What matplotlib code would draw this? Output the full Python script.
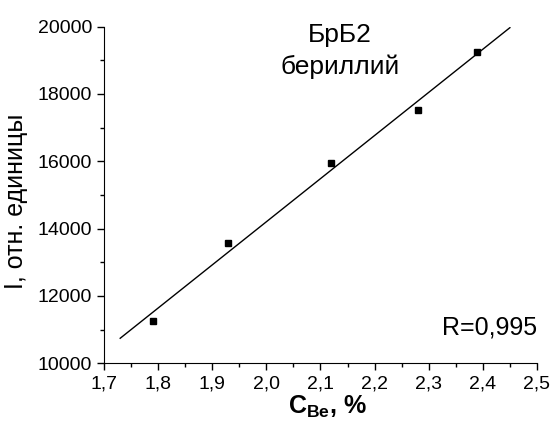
import numpy as np
import matplotlib
matplotlib.use("Agg")
import matplotlib.pyplot as plt
from matplotlib.ticker import MultipleLocator, FuncFormatter

plt.rcParams['font.family'] = ['Liberation Sans', 'DejaVu Sans']
plt.rcParams['mathtext.fontset'] = 'custom'
plt.rcParams['mathtext.rm'] = 'Liberation Sans'
plt.rcParams['mathtext.bf'] = 'Liberation Sans:bold'

# measured points (C_Be, %  vs  intensity)
conc = [1.79, 1.93, 2.12, 2.28, 2.39]
intensity = [11270, 13560, 15960, 17520, 19240]
fit_range = [1.73, 2.45]

fig = plt.figure(figsize=(5.53, 4.22), dpi=100)
ax = fig.add_axes([0.188, 0.139, 0.783, 0.798])

# linear fit
k, b = np.polyfit(conc, intensity, 1)
xf = np.array(fit_range)
ax.plot(xf, k * xf + b, color='black', lw=1.0)
ax.plot(conc, intensity, 's', color='black', ms=4.5, mfc='black', mec='black')

ax.set_xlim(1.7, 2.5)
ax.set_ylim(10000, 20000)
ax.xaxis.set_major_locator(MultipleLocator(0.1))
ax.xaxis.set_minor_locator(MultipleLocator(0.05))
ax.yaxis.set_major_locator(MultipleLocator(2000))
ax.yaxis.set_minor_locator(MultipleLocator(1000))
ax.xaxis.set_major_formatter(FuncFormatter(lambda v, p: ("%.1f" % v).replace('.', ',')))
ax.yaxis.set_major_formatter(FuncFormatter(lambda v, p: "%d" % v))

ax.spines['top'].set_visible(False)
ax.spines['right'].set_visible(False)
ax.tick_params(which='major', direction='out', length=5, width=1, labelsize=14)
ax.tick_params(which='minor', direction='out', length=3, width=1)

ax.set_ylabel("I, отн. единицы", fontsize=18)
ax.yaxis.set_label_coords(-0.175, 0.48)
ax.set_xlabel(r"$\mathbf{C_{Be}}$, %", fontsize=18, fontweight='bold')
ax.xaxis.set_label_coords(0.515, -0.09)

ax.text(0.545, 1.01, "БрБ2\nбериллий", transform=ax.transAxes,
        ha='center', va='top', fontsize=19, multialignment='center',
        linespacing=1.35)
ax.text(1.0, 0.105, "R=0,995", transform=ax.transAxes,
        ha='right', va='center', fontsize=18)

fig.savefig("out.png", dpi=100)
